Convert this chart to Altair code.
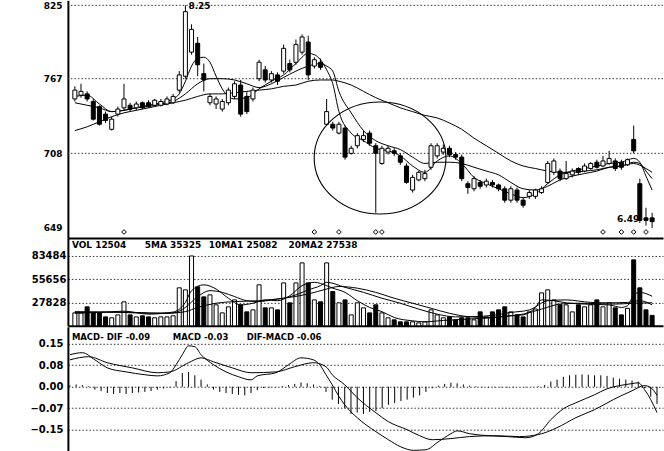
import altair as alt
import pandas as pd

# ---------------- daily quotes (prices in cents) ----------------
opens = [751, 754, 755, 749, 745, 739, 727, 739, 744, 746, 744, 748, 748, 746, 746, 747, 748, 758, 769, 788,
         795, 771, 748, 747, 743, 748, 753, 762, 753, 751, 767, 774, 766, 770, 773, 779, 780, 788, 796, 777,
         780, 731, 731, 724, 728, 708, 714, 719, 724, 714, 700, 709, 710, 706, 698, 679, 687, 688, 697, 706,
         709, 712, 707, 705, 684, 680, 685, 683, 685, 683, 680, 671, 679, 671, 674, 674, 677, 685, 693, 694,
         688, 691, 696, 694, 696, 701, 698, 700, 702, 701, 699, 719, 684, 657, 657]
closes = [758, 757, 751, 735, 731, 734, 735, 743, 751, 743, 747, 744, 745, 750, 749, 751, 753, 770, 820, 806,
          778, 766, 753, 751, 749, 758, 763, 739, 741, 758, 780, 766, 771, 765, 791, 774, 794, 800, 770, 782,
          776, 741, 728, 731, 705, 712, 722, 722, 716, 708, 712, 712, 708, 701, 685, 689, 693, 692, 714, 714,
          712, 707, 705, 688, 681, 688, 682, 686, 683, 680, 671, 680, 671, 667, 677, 679, 680, 700, 702, 688,
          692, 694, 693, 698, 700, 697, 702, 704, 696, 697, 703, 710, 655, 655, 654]
highs = [761, 763, 757, 751, 746, 741, 737, 745, 763, 748, 749, 749, 750, 751, 751, 753, 755, 773, 825, 810,
         800, 779, 755, 753, 751, 760, 765, 766, 757, 760, 782, 777, 773, 772, 794, 782, 798, 802, 801, 784,
         783, 751, 733, 733, 730, 714, 724, 726, 726, 716, 714, 714, 712, 708, 700, 691, 694, 695, 716, 716,
         715, 714, 709, 707, 686, 690, 687, 688, 687, 684, 682, 682, 681, 673, 679, 680, 682, 702, 704, 696,
         702, 696, 697, 700, 701, 703, 706, 710, 704, 703, 704, 730, 688, 665, 661]
lows = [749, 752, 749, 734, 730, 732, 726, 737, 742, 741, 742, 743, 744, 745, 745, 746, 747, 756, 767, 786,
        769, 757, 746, 743, 741, 746, 751, 737, 739, 749, 765, 764, 764, 762, 771, 772, 778, 786, 766, 775,
        774, 730, 726, 723, 703, 707, 712, 717, 714, 661, 699, 707, 706, 699, 684, 677, 686, 686, 695, 704,
        707, 705, 703, 686, 676, 678, 680, 681, 681, 678, 669, 669, 669, 665, 672, 672, 676, 684, 691, 686,
        687, 689, 691, 693, 695, 696, 697, 699, 694, 695, 698, 708, 653, 651, 649]
volumes = [15500, 15500, 22700, 15500, 15500, 10700, 9600, 13100, 28700, 13100, 10700, 12000, 10700, 9600,
           10700, 10700, 12000, 45400, 43000, 83484, 46600, 34600, 37000, 25100, 15500, 22700, 31000, 25100,
           16700, 19100, 49000, 21500, 21500, 19100, 51300, 27500, 51300, 75200, 51300, 31000, 28700, 75200,
           41000, 27500, 31000, 13100, 27500, 21500, 15500, 25100, 15500, 9600, 7200, 4800, 4800, 4800, 3600,
           4800, 19100, 13100, 9600, 10700, 7200, 9600, 9600, 7200, 16700, 10700, 16700, 19100, 22700, 16700,
           13100, 10700, 16700, 20000, 39400, 43000, 31000, 25100, 25100, 16700, 25100, 22700, 25100, 31000,
           22700, 27500, 21500, 13100, 20821, 78800, 45400, 19100, 12504]
macd_hist = [0.005, 0.008, 0.006, 0.002, -0.010, -0.015, -0.022, -0.025, -0.022, -0.025, -0.022, -0.020,
             -0.018, -0.015, -0.010, -0.006, -0.002, 0.020, 0.048, 0.052, 0.040, 0.025, 0.008, -0.010, -0.018,
             -0.022, -0.025, -0.028, -0.030, -0.022, -0.012, -0.004, -0.003, -0.002, 0.003, 0.006, 0.010,
             0.015, 0.012, 0.008, 0.003, -0.018, -0.045, -0.060, -0.075, -0.095, -0.090, -0.095, -0.088,
             -0.085, -0.075, -0.063, -0.057, -0.050, -0.045, -0.038, -0.030, -0.018, -0.005, 0.004, 0.010,
             0.014, 0.012, 0.008, 0.004, 0.002, -0.002, -0.003, -0.002, -0.002, -0.003, -0.002, 0.000, -0.002,
             0.001, 0.002, 0.006, 0.018, 0.025, 0.035, 0.040, 0.042, 0.043, 0.042, 0.040, 0.040, 0.038, 0.032,
             0.028, 0.025, 0.022, 0.018, -0.005, -0.035, -0.060]

# ---------------- price moving averages (day, cents) ----------------
ma5_days = [0, 2, 4, 6, 8, 10, 12, 14, 16, 17, 18, 19, 20, 21, 22, 23, 24, 26, 28, 30, 32, 34, 36, 38, 39, 40,
            41, 42, 43, 45, 47, 49, 51, 53, 55, 57, 59, 61, 63, 65, 67, 69, 71, 73, 75, 77, 79, 81, 83, 85, 87,
            89, 91, 92, 93, 94]
ma5_vals = [753, 754, 747, 741, 742, 744, 746, 748, 751, 755, 765, 777, 783, 784, 780, 769, 759, 751, 752, 759,
            765, 770, 779, 787, 786, 782, 774, 763, 741, 724, 718, 712, 710, 706, 698, 693, 702, 706, 700, 689,
            684, 680, 676, 673, 676, 684, 691, 694, 696, 698, 700, 701, 704, 701, 690, 679]
ma10_days = [0, 2, 4, 6, 8, 10, 12, 14, 16, 18, 20, 22, 24, 26, 28, 30, 32, 34, 36, 38, 40, 41, 42, 43, 45, 47,
             49, 51, 53, 55, 57, 59, 61, 63, 65, 67, 69, 71, 73, 75, 77, 79, 81, 83, 85, 87, 89, 91, 92, 93, 94]
ma10_vals = [748, 746, 744, 741, 742, 744, 745, 747, 749, 755, 763, 767, 767, 766, 763, 760, 763, 768, 773, 777,
             779, 777, 773, 757, 740, 726, 718, 714, 711, 705, 700, 701, 701, 700, 697, 694, 691, 685, 680, 679,
             682, 687, 690, 692, 694, 697, 698, 701, 700, 694, 688]
ma30_days = [0, 2, 4, 6, 8, 10, 12, 14, 16, 18, 20, 22, 24, 26, 28, 30, 32, 34, 36, 38, 40, 42, 43, 45, 47, 49,
             51, 53, 55, 57, 59, 61, 63, 65, 67, 69, 71, 73, 75, 77, 79, 81, 83, 85, 87, 89, 91, 93, 94]
ma30_vals = [726, 729, 733, 737, 740, 742, 744, 746, 748, 750, 753, 755, 755, 756, 757, 758, 759, 761, 762, 765,
             766, 766, 765, 762, 757, 752, 748, 744, 741, 738, 736, 732, 727, 720, 714, 708, 702, 698, 696, 694,
             693, 693, 694, 695, 697, 698, 700, 696, 693]

# ---------------- volume moving averages ----------------
vma5_days = [0, 4, 8, 12, 16, 18, 19, 21, 23, 25, 27, 29, 31, 33, 35, 37, 39, 41, 42, 44, 46, 48, 50, 52, 55,
             57, 60, 62, 65, 68, 71, 73, 75, 76, 78, 80, 83, 87, 89, 90, 91, 92, 94]
vma5_vals = [15000, 16000, 17500, 14000, 16500, 28000, 42000, 49000, 44000, 33000, 25000, 27000, 31000, 30000,
             36000, 48000, 52000, 48000, 45000, 40000, 30000, 22000, 17000, 10000, 6000, 4800, 6500, 7200, 8500,
             9600, 12000, 13100, 22000, 31000, 30000, 27500, 26000, 25000, 22000, 24000, 37000, 40000, 35325]
vma10_days = [0, 4, 8, 12, 16, 18, 20, 22, 24, 26, 28, 30, 32, 34, 36, 38, 40, 41, 44, 47, 50, 53, 56, 59, 62,
              65, 68, 71, 74, 77, 80, 84, 87, 90, 92, 94]
vma10_vals = [17000, 16500, 16000, 15000, 15500, 22000, 35000, 42000, 40000, 35000, 30000, 29000, 31000, 33000,
              37000, 43000, 48000, 52000, 46000, 40000, 33000, 27000, 20000, 14000, 10700, 11000, 12500, 16000,
              19000, 30000, 31000, 28000, 27500, 28000, 30000, 25082]
vma20_days = [0, 5, 10, 15, 18, 20, 23, 26, 30, 34, 38, 41, 43, 46, 49, 52, 55, 58, 61, 64, 67, 70, 73, 76, 79,
              82, 85, 88, 91, 94]
vma20_vals = [16000, 16500, 16000, 15000, 17000, 22000, 27000, 29000, 30000, 33000, 38000, 44000, 47000, 45000,
              40000, 33000, 27000, 21000, 15000, 11000, 10000, 11500, 14000, 20000, 26000, 27000, 26500, 26000,
              27000, 27538]

# ---------------- MACD lines ----------------
dif_days = [0, 2, 4, 6, 9, 12, 14, 16, 17, 18, 19, 20, 21, 23, 25, 27, 29, 30, 33, 35, 37, 39, 40, 41, 42, 43,
            44, 46, 49, 51, 53, 55, 57, 59, 61, 62, 64, 67, 70, 73, 75, 77, 79, 81, 84, 86, 88, 90, 91, 92, 93, 94]
dif_vals = [0.112, 0.119, 0.094, 0.066, 0.052, 0.042, 0.038, 0.049, 0.077, 0.112, 0.143, 0.140, 0.112, 0.077,
            0.052, 0.035, 0.024, 0.038, 0.049, 0.077, 0.101, 0.094, 0.077, 0.042, 0.007, -0.031, -0.063, -0.108,
            -0.157, -0.185, -0.210, -0.222, -0.220, -0.192, -0.164, -0.154, -0.164, -0.171, -0.174, -0.178,
            -0.164, -0.115, -0.077, -0.056, -0.028, -0.007, 0.004, 0.011, 0.014, -0.010, -0.045, -0.090]
dea_days = [0, 3, 6, 10, 14, 16, 19, 21, 23, 26, 29, 33, 36, 39, 41, 42, 44, 46, 49, 51, 54, 56, 58, 61, 64, 68,
            72, 75, 78, 81, 84, 87, 90, 92, 93, 94]
dea_vals = [0.094, 0.105, 0.084, 0.066, 0.049, 0.052, 0.084, 0.101, 0.087, 0.066, 0.049, 0.052, 0.070, 0.084,
            0.070, 0.042, 0.007, -0.038, -0.091, -0.122, -0.150, -0.171, -0.185, -0.181, -0.174, -0.171, -0.174,
            -0.167, -0.143, -0.108, -0.080, -0.045, -0.014, 0.004, -0.003, -0.030]

# signal marks along the bottom of the price panel
signal_days = [8, 39, 43, 49, 50, 86, 89, 91, 93]
# highlighted consolidation zone
zone_day = [49.7]
zone_price = [704.3]
price_grid = [708, 767, 825]
price_ticks = [649, 708, 767, 825]
vol_ticks = [27828, 55656, 83484]
macd_ticks = [0.15, 0.0751, 0.0, -0.0749, -0.15]

# ---------------- tables ----------------
days = list(range(len(opens)))
quotes = pd.DataFrame({"day": days, "open": opens, "close": closes, "high": highs, "low": lows,
                       "volume": volumes, "hist": macd_hist})


def series(name, d, v):
    return pd.DataFrame({"day": d, "value": v, "series": name})


price_ma = pd.concat([series("MA5", ma5_days, ma5_vals), series("MA10", ma10_days, ma10_vals),
                      series("MA30", ma30_days, ma30_vals)])
vol_ma = pd.concat([series("MA5", vma5_days, vma5_vals), series("MA10", vma10_days, vma10_vals),
                    series("MA20", vma20_days, vma20_vals)])
macd_lines = pd.concat([series("DIF", dif_days, dif_vals), series("DEA", dea_days, dea_vals)])

W = 596
LABEL_FONT = "DejaVu Sans"
up_fill = alt.condition("datum.close >= datum.open", alt.value("white"), alt.value("black"))

x_scale = alt.Scale(domain=[-0.32, 94.96], nice=False, zero=False)
x_axis = alt.Axis(title=None, labels=False, ticks=False, grid=False, domain=True, domainColor="black",
                  domainWidth=2, minExtent=0, maxExtent=0)
X = alt.X("day:Q", scale=x_scale, axis=x_axis)


def y_axis(values, fmt, size, pad, grid):
    return alt.Axis(title=None, values=values, format=fmt, ticks=False, labelPadding=pad,
                    labelFont=LABEL_FONT, labelFontWeight="bold", labelFontSize=size, labelColor="black",
                    domain=True, domainColor="black", domainWidth=2, grid=grid, gridColor="#333333",
                    gridDash=[1.5, 2], gridWidth=1, minExtent=68, maxExtent=68)


def header(text, x, y, size=9):
    return alt.Chart(pd.DataFrame({"t": [text]})).mark_text(
        align="left", baseline="middle", font=LABEL_FONT, fontWeight="bold", fontSize=size, color="black"
    ).encode(x=alt.value(x), y=alt.value(y), text="t:N")


# ---------------- price panel ----------------
p_scale = alt.Scale(domain=[641.1, 828.95], nice=False, zero=False)
p_axis = y_axis(price_ticks, "d", 9, 6, False)

grid_p = alt.Chart(pd.DataFrame({"level": price_grid})).mark_rule(
    color="#333333", strokeDash=[1.5, 2], strokeWidth=1
).encode(y=alt.Y("level:Q", scale=p_scale, axis=p_axis))
wicks = alt.Chart(quotes).mark_rule(color="black", strokeWidth=1).encode(
    x=X, y=alt.Y("low:Q", scale=p_scale, axis=p_axis), y2="high:Q")
bodies = alt.Chart(quotes).mark_bar(size=4, stroke="black", strokeWidth=1).encode(
    x=X, y=alt.Y("open:Q", scale=p_scale, axis=p_axis), y2="close:Q", fill=up_fill)
p_lines = alt.Chart(price_ma).mark_line(color="black", strokeWidth=1, interpolate="monotone").encode(
    x=X, y=alt.Y("value:Q", scale=p_scale, axis=p_axis), detail="series:N")
ELLIPSE = "M -1 0 A 1 0.85 0 1 0 1 0 A 1 0.85 0 1 0 -1 0 Z"
zone = alt.Chart(pd.DataFrame({"day": zone_day, "price": zone_price})).mark_point(
    shape=ELLIPSE, size=17424, filled=False, color="black", strokeWidth=1.1, opacity=1
).encode(x=X, y=alt.Y("price:Q", scale=p_scale, axis=p_axis))
signals = alt.Chart(pd.DataFrame({"day": signal_days})).mark_point(
    shape="diamond", size=22, filled=False, color="black", strokeWidth=1, opacity=1
).encode(x=X, y=alt.value(232))

hi_row = quotes.loc[[quotes["high"].idxmax()]].assign(txt=lambda d: (d["high"] / 100).map("{:.2f}".format))
lo_row = quotes.loc[[quotes["low"].idxmin()]].assign(txt=lambda d: (d["low"] / 100).map("{:.2f}".format))
hi_lbl = alt.Chart(hi_row).mark_text(align="left", baseline="middle", dx=3, dy=1, font=LABEL_FONT,
                                     fontWeight="bold", fontSize=9, color="black").encode(
    x=X, y=alt.Y("high:Q", scale=p_scale, axis=p_axis), text="txt:N")
lo_lbl = alt.Chart(lo_row).mark_text(align="right", baseline="middle", dx=-13, dy=-9, font=LABEL_FONT,
                                     fontWeight="bold", fontSize=9, color="black").encode(
    x=X, y=alt.Y("low:Q", scale=p_scale, axis=p_axis), text="txt:N")

price = alt.layer(grid_p, p_lines, wicks, bodies, zone, signals, hi_lbl, lo_lbl).properties(width=W, height=238)

# ---------------- volume panel ----------------
v_scale = alt.Scale(domain=[0, 104950], nice=False, zero=True)
v_axis = y_axis(vol_ticks, "d", 10, 2, True)
vbars = alt.Chart(quotes).mark_bar(size=4, stroke="black", strokeWidth=1).encode(
    x=X, y=alt.Y("volume:Q", scale=v_scale, axis=v_axis), fill=up_fill)
v_lines = alt.Chart(vol_ma).mark_line(color="black", strokeWidth=1, interpolate="monotone").encode(
    x=X, y=alt.Y("value:Q", scale=v_scale, axis=v_axis), detail="series:N")
volume = alt.layer(
    vbars, v_lines,
    header(f"VOL {volumes[-1]}", 4, 7, 9),
    header(f"5MA {vma5_vals[-1]}", 77, 7, 9),
    header(f"10MA1 {vma10_vals[-1]}", 141, 7, 9),
    header(f"20MA2 {vma20_vals[-1]}", 221, 7, 9),
).properties(width=W, height=88)

# ---------------- MACD panel ----------------
m_scale = alt.Scale(domain=[-0.2267, 0.2093], nice=False, zero=False)
m_axis = y_axis(macd_ticks, ".2f", 10, 5, True)
hist = alt.Chart(quotes).mark_rule(color="black", strokeWidth=1).encode(
    x=X, y=alt.Y("hist:Q", scale=m_scale, axis=m_axis), y2=alt.datum(0))
m_lines = alt.Chart(macd_lines).mark_line(color="black", strokeWidth=1, interpolate="monotone", clip=True).encode(
    x=X, y=alt.Y("value:Q", scale=m_scale, axis=m_axis), detail="series:N")
macd = alt.layer(
    hist, m_lines,
    header(f"MACD- DIF {dif_vals[-1]:.2f}", 4, 10, 8.5),
    header(f"MACD {dea_vals[-1]:.2f}", 105, 10, 8.5),
    header(f"DIF-MACD {macd_hist[-1]:.2f}", 179, 10, 8.5),
).properties(width=W, height=125)

chart = alt.vconcat(price, volume, macd, spacing=0).properties(
    padding=0, background="white"
).configure_view(strokeWidth=0)

chart.save("out.html", embed_options={"renderer": "svg", "actions": False})
